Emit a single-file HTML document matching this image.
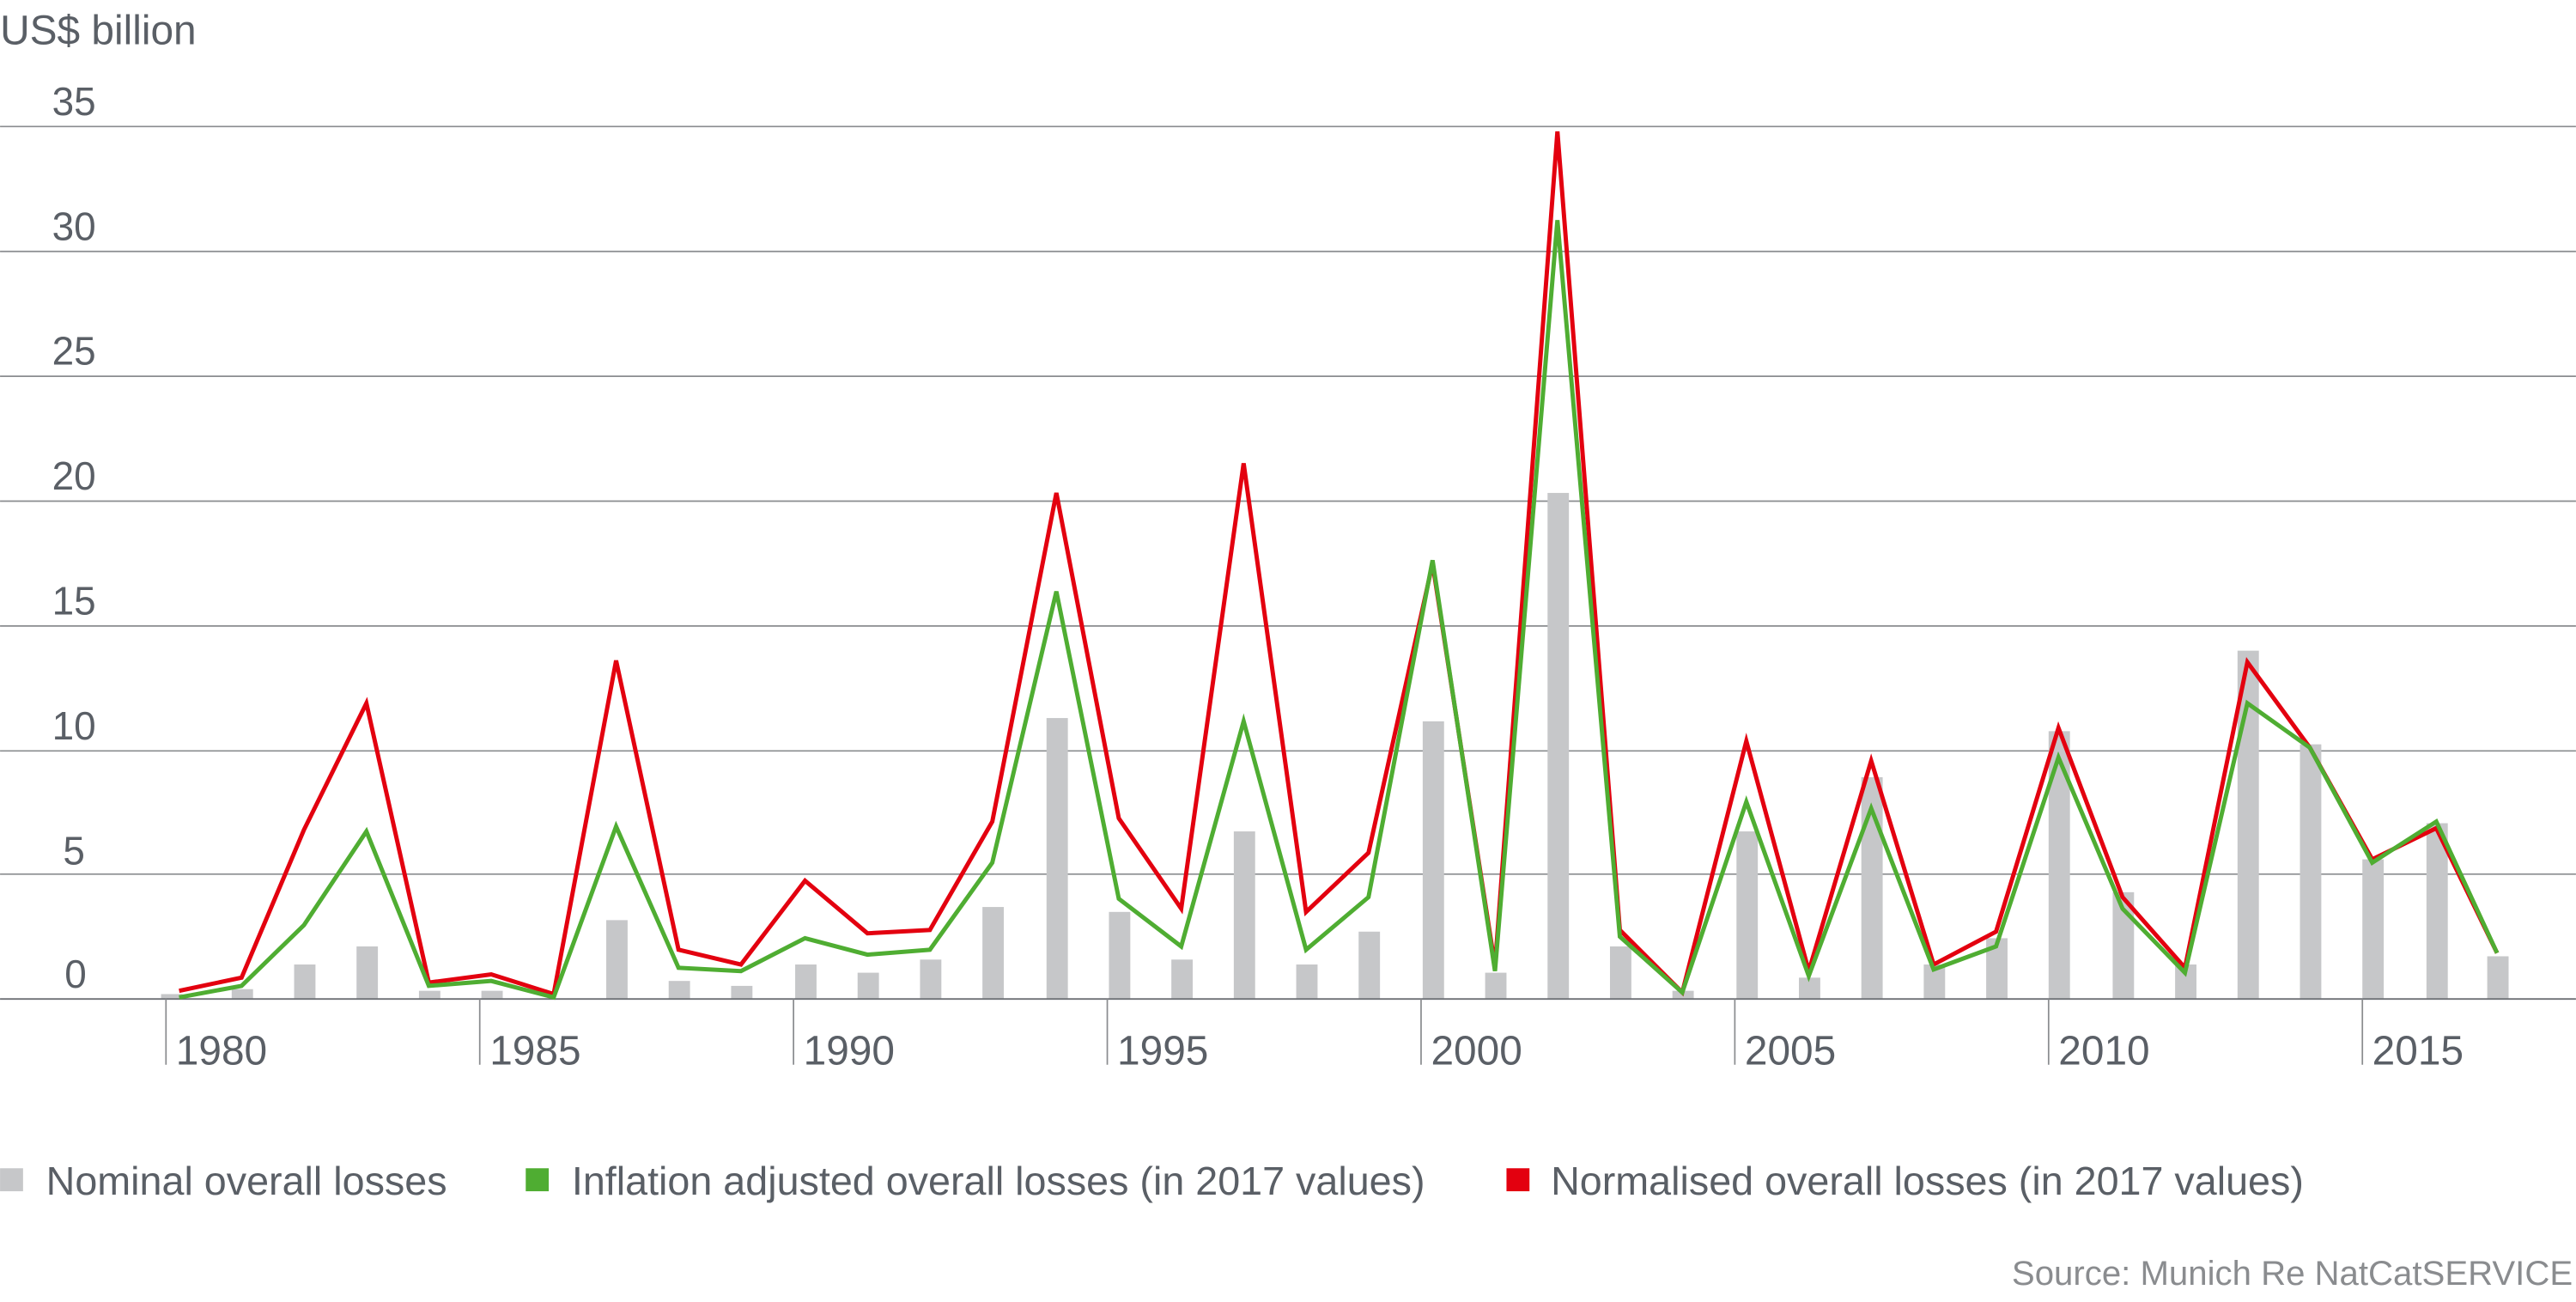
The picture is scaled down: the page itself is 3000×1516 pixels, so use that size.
<!DOCTYPE html>
<html><head><meta charset="utf-8"><style>html,body{margin:0;padding:0;background:#fff}svg{display:block}</style></head>
<body>
<svg width="3000" height="1516" viewBox="0 0 1568 792.4" xmlns="http://www.w3.org/2000/svg" font-family="'Liberation Sans', sans-serif">
<g stroke="#8a8c8f" stroke-width="0.9">
<line x1="0" y1="77" x2="1568" y2="77"/><line x1="0" y1="153" x2="1568" y2="153"/><line x1="0" y1="229" x2="1568" y2="229"/><line x1="0" y1="305" x2="1568" y2="305"/><line x1="0" y1="381" x2="1568" y2="381"/><line x1="0" y1="457" x2="1568" y2="457"/><line x1="0" y1="532" x2="1568" y2="532"/>
</g>
<g fill="#5a5f66" font-size="24" text-anchor="middle">
<text x="0" y="27" text-anchor="start" font-size="25">US$ billion</text>
<text x="45" y="70">35</text><text x="45" y="146">30</text><text x="45" y="222">25</text><text x="45" y="298">20</text><text x="45" y="374">15</text><text x="45" y="450">10</text><text x="45" y="526">5</text><text x="46" y="601">0</text>
</g>
<g fill="#c6c7c9">
<rect x="98" y="605" width="13" height="3"/>
<rect x="141" y="602" width="13" height="6"/><rect x="179" y="587" width="13" height="21"/><rect x="217" y="576" width="13" height="32"/><rect x="255" y="603" width="13" height="5"/><rect x="293" y="603" width="13" height="5"/>
<rect x="369" y="560" width="13" height="48"/><rect x="407" y="597" width="13" height="11"/><rect x="445" y="600" width="13" height="8"/><rect x="484" y="587" width="13" height="21"/><rect x="522" y="592" width="13" height="16"/><rect x="560" y="584" width="13" height="24"/><rect x="598" y="552" width="13" height="56"/><rect x="637" y="437" width="13" height="171"/><rect x="675" y="555" width="13" height="53"/><rect x="713" y="584" width="13" height="24"/><rect x="751" y="506" width="13" height="102"/><rect x="789" y="587" width="13" height="21"/><rect x="827" y="567" width="13" height="41"/><rect x="866" y="439" width="13" height="169"/><rect x="904" y="592" width="13" height="16"/><rect x="942" y="300" width="13" height="308"/><rect x="980" y="576" width="13" height="32"/><rect x="1018" y="603" width="13" height="5"/><rect x="1057" y="506" width="13" height="102"/><rect x="1095" y="595" width="13" height="13"/><rect x="1133" y="473" width="13" height="135"/><rect x="1171" y="587" width="13" height="21"/><rect x="1209" y="571" width="13" height="37"/><rect x="1247" y="445" width="13" height="163"/><rect x="1286" y="543" width="13" height="65"/><rect x="1324" y="587" width="13" height="21"/><rect x="1362" y="396" width="13" height="212"/><rect x="1400" y="453" width="13" height="155"/><rect x="1438" y="523" width="13" height="85"/><rect x="1477" y="501" width="13" height="107"/><rect x="1514" y="582" width="13" height="26"/>
</g>
<line x1="0" y1="608" x2="1568" y2="608" stroke="#6e7176" stroke-width="1"/>
<g stroke="#8a8c8f" stroke-width="0.9">
<line x1="101" y1="608" x2="101" y2="648"/><line x1="292" y1="608" x2="292" y2="648"/><line x1="483" y1="608" x2="483" y2="648"/><line x1="674" y1="608" x2="674" y2="648"/><line x1="865" y1="608" x2="865" y2="648"/><line x1="1056" y1="608" x2="1056" y2="648"/><line x1="1247" y1="608" x2="1247" y2="648"/><line x1="1438" y1="608" x2="1438" y2="648"/>
</g>
<g fill="#5a5f66" font-size="25">
<text x="107" y="648">1980</text><text x="298" y="648">1985</text><text x="489" y="648">1990</text><text x="680" y="648">1995</text><text x="871" y="648">2000</text><text x="1062" y="648">2005</text><text x="1253" y="648">2010</text><text x="1444" y="648">2015</text>
</g>
<polyline fill="none" stroke="#e3000f" stroke-width="2.6" points="109,603 147,595 185,505 223,428 261,598 299,593 337,605 375,402 413,578 451,587 490,536 528,568 566,566 604,500 643,300 681,498 719,553 757,282 795,555 833,519 872,343 910,588 948,80 986,566 1024,604 1063,451 1101,591 1139,463 1177,587 1215,567 1253,443 1292,546 1330,589 1368,403 1406,455 1444,523 1483,504 1520,580"/>
<polyline fill="none" stroke="#4fad32" stroke-width="2.6" points="109,607 147,600 185,563 223,506 261,600 299,597 337,607 375,503 413,589 451,591 490,571 528,581 566,578 604,525 643,360 681,547 719,576 757,439 795,578 833,546 872,341 910,591 948,134 986,570 1024,604 1063,488 1101,594 1139,492 1177,590 1215,576 1253,461 1292,553 1330,592 1368,428 1406,455 1444,525 1483,500 1520,580"/>
<rect x="0" y="711" width="14" height="14" fill="#c6c7c9"/>
<rect x="320" y="711" width="14" height="14" fill="#4fad32"/>
<rect x="917" y="711" width="14" height="14" fill="#e3000f"/>
<g fill="#5a5f66" font-size="24.4">
<text x="28" y="727">Nominal overall losses</text>
<text x="348" y="727">Inflation adjusted overall losses (in 2017 values)</text>
<text x="944" y="727">Normalised overall losses (in 2017 values)</text>
</g>
<text x="1566" y="782" fill="#8a8c8f" font-size="21" text-anchor="end">Source: Munich Re NatCatSERVICE</text>
</svg>
</body></html>
